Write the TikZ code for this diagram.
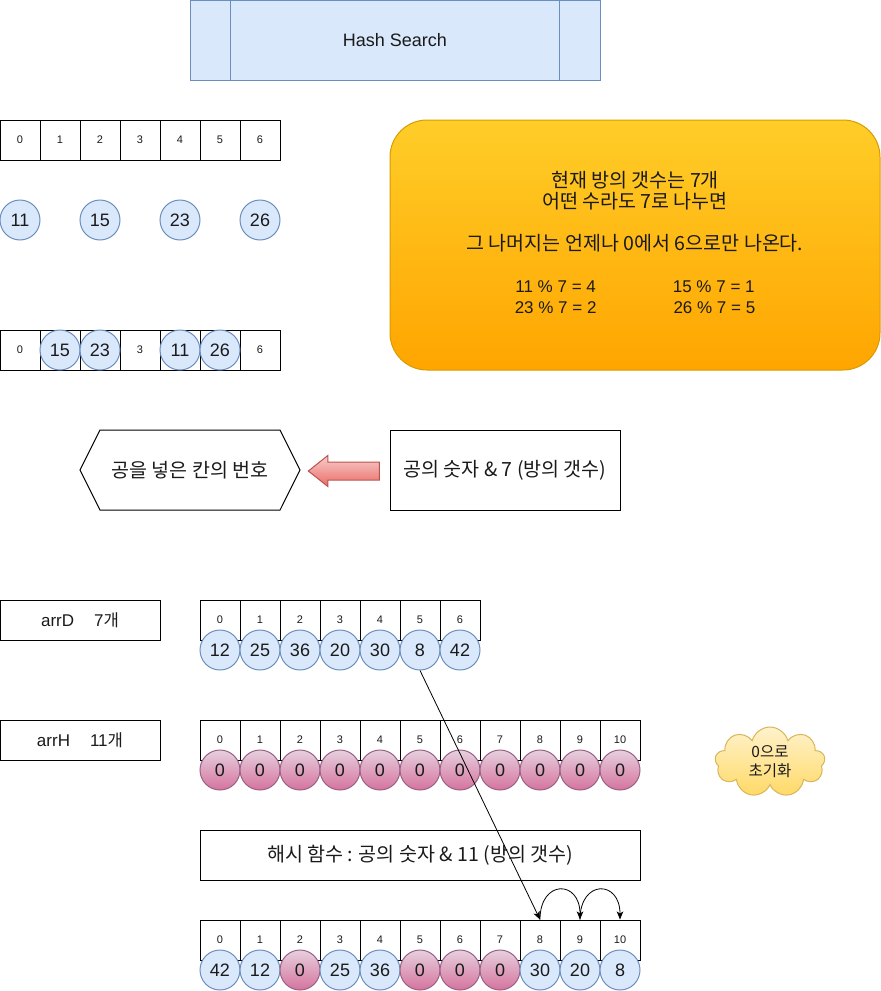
\documentclass[tikz,border=0pt]{standalone}
\usepackage{fontspec}
\setmainfont{Liberation Sans}
\newfontfamily\kr[Scale=1.15]{Noto Sans CJK KR}
\usetikzlibrary{shapes.symbols, shapes.arrows, arrows.meta, positioning}
\definecolor{BallFill}{HTML}{DAE8FC}
\definecolor{BallLine}{HTML}{6C8EBF}
\definecolor{NoteTop}{HTML}{FFCD28}
\definecolor{NoteBot}{HTML}{FFA500}
\definecolor{NoteLine}{HTML}{D79B00}
\definecolor{ZeroTop}{HTML}{E6D0DE}
\definecolor{ZeroBot}{HTML}{D5739D}
\definecolor{ZeroLine}{HTML}{996185}
\definecolor{PtrTop}{HTML}{F8CECC}
\definecolor{PtrBot}{HTML}{EA6B66}
\definecolor{PtrLine}{HTML}{B85450}
\definecolor{CloudTop}{HTML}{FFF2CC}
\definecolor{CloudBot}{HTML}{FFD966}
\definecolor{CloudLine}{HTML}{D6B656}
\definecolor{Ink}{HTML}{1A1A1A}

\begin{document}
\begin{tikzpicture}[
    x=1pt, y=-1pt, line width=1pt,
    every node/.style={text=Ink, align=center, font=\fontsize{17}{21}\selectfont},
    krtext/.style={font=\kr\fontsize{17}{21}\selectfont},
    cell/.style={rectangle, draw, minimum width=40pt, minimum height=40pt, inner sep=0pt, font=\fontsize{11}{13}\selectfont},
    ball/.style={circle, draw=BallLine, fill=BallFill, minimum size=40pt, inner sep=0pt, font=\fontsize{18}{20}\selectfont},
    zero/.style={ball, top color=ZeroTop, bottom color=ZeroBot, draw=ZeroLine},
    namebox/.style={rectangle, draw, inner sep=0pt},
    link/.style={-{Stealth[length=8pt, width=6.5pt, inset=2pt]}, line width=0.8pt}
  ]
    \useasboundingbox (0,0) rectangle (881,991);

    % Title
    \node[rectangle, draw=BallLine, fill=BallFill, minimum width=410pt, minimum height=80pt, inner sep=0pt, font=\fontsize{18}{20}\selectfont] (title) at (395,40) {Hash Search};
    \draw[BallLine] ([xshift=41pt]title.north west) -- ([xshift=41pt]title.south west);
    \draw[BallLine] ([xshift=-41pt]title.north east) -- ([xshift=-41pt]title.south east);

    % Rooms and balls
    \foreach \i in {0,...,6}
      \node[cell] (t\i) at (20+40*\i,140) {\i};
    \node[ball] (b11) at (20,220) {11};
    \node[ball] (b15) at (100,220) {15};
    \node[ball] (b23) at (180,220) {23};
    \node[ball] (b26) at (260,220) {26};

    \foreach \i/\t in {0/0, 1/, 2/, 3/3, 4/, 5/, 6/6}
      \node[cell] (m\i) at (20+40*\i,350) {\t};
    \node[ball] (p15) at (m1) {15};
    \node[ball] (p23) at (m2) {23};
    \node[ball] (p11) at (m4) {11};
    \node[ball] (p26) at (m5) {26};

    % Note
    \node[rectangle, rounded corners=37pt, draw=NoteLine, top color=NoteTop, bottom color=NoteBot, minimum width=490pt, minimum height=250pt] (note) at (635,245) {};
    \node[yshift=3pt] (notetext) at (note)
      {{\kr 현재 방의 갯수는 7개}\\{\kr 어떤 수라도 7로 나누면}\\[21pt]{\kr 그 나머지는 언제나 0에서 6으로만 나온다.}\\[21pt]11 \% 7 = 4\hspace{77pt}15 \% 7 = 1\\23 \% 7 = 2\hspace{77pt}26 \% 7 = 5};

    % Rule
    \node[signal, signal to=west and east, signal pointer angle=127, draw, minimum width=220pt, minimum height=80pt, inner sep=0pt, krtext] (slot) at (190,470) {공을 넣은 칸의 번호};
    \node[rectangle, draw, minimum width=230pt, minimum height=80pt, inner sep=0pt, krtext] (rule) at (505,470) {공의 숫자 \& 7 (방의 갯수)};
    \node[single arrow, shape border rotate=180, draw=PtrLine, top color=PtrTop, bottom color=PtrBot, minimum height=71pt, single arrow head extend=6.5pt, single arrow tip angle=77, inner xsep=0pt, inner ysep=8.5pt] (pointer) at (349.5,471) {};

    % Arrays
    \node[namebox, minimum width=160pt, minimum height=40pt] (arrD) at (80,620) {arrD\hspace{20pt}7{\kr\fontsize{14.5}{21}\selectfont 개}};
    \node[namebox, minimum width=160pt, minimum height=40pt] (arrH) at (80,740) {arrH\hspace{20pt}11{\kr\fontsize{14.5}{21}\selectfont 개}};

    \foreach \i in {0,...,6}
      \node[cell] (dc\i) at (220+40*\i,620) {\i};
    \foreach \i/\v in {0/12, 1/25, 2/36, 3/20, 4/30, 5/8, 6/42}
      \node[ball] (d\i) at (220+40*\i,650) {\v};

    \foreach \i in {0,...,10}
      \node[cell] (hc\i) at (220+40*\i,740) {\i};
    \foreach \i in {0,...,10}
      \node[zero] (h\i) at (220+40*\i,770) {0};

    \node[cloud, cloud puffs=9, aspect=1.6, draw=CloudLine, top color=CloudTop, bottom color=CloudBot, minimum width=110pt, minimum height=70pt, inner sep=0pt, font=\kr\fontsize{13.5}{19}\selectfont] (init) at (770,762) {0으로\\초기화};

    \node[namebox, minimum width=440pt, minimum height=50pt, krtext] (hashfn) at (420,855) {해시 함수 : 공의 숫자 \& 11 (방의 갯수)};

    \foreach \i in {0,...,10}
      \node[cell] (rc\i) at (220+40*\i,940) {\i};
    \foreach \i/\v/\s in {0/42/ball, 1/12/ball, 2/0/zero, 3/25/ball, 4/36/ball, 5/0/zero, 6/0/zero, 7/0/zero, 8/30/ball, 9/20/ball, 10/8/ball}
      \node[\s] (r\i) at (220+40*\i,970) {\v};

    % Connections
    \draw[link] (d5.south) -- (rc8.north);
    \draw[link] (rc8.north) .. controls +(0,-40) and +(0,-40) .. (rc9.north);
    \draw[link] (rc9.north) .. controls +(0,-40) and +(0,-40) .. (rc10.north);
  \end{tikzpicture}
\end{document}
